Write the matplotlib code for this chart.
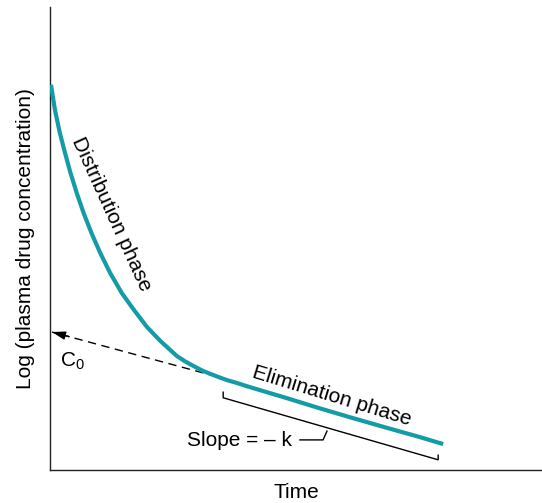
import matplotlib
matplotlib.use('Agg')
from matplotlib import pyplot as plt

plt.rcParams['font.family'] = ['Liberation Sans', 'DejaVu Sans']

# plasma curve (time, log concentration), arbitrary units 0..10
time = [0.02, 0.10, 0.20, 0.29, 0.41, 0.55, 0.69, 0.85, 1.02, 1.22, 1.46, 1.69,
        1.97, 2.24, 2.58, 2.74, 2.91, 3.09, 3.25, 3.42, 3.60, 3.80, 4.00,
        4.82, 5.49, 6.16, 6.85, 7.52, 7.99]
log_conc = [8.32, 7.78, 7.28, 6.91, 6.44, 5.96, 5.53, 5.10, 4.69, 4.26, 3.82, 3.48,
            3.09, 2.79, 2.46, 2.35, 2.25, 2.15, 2.08, 2.01, 1.94, 1.88, 1.81,
            1.55, 1.33, 1.12, 0.91, 0.71, 0.56]

# back-extrapolation of elimination line to the y axis (C0)
extrap_t = [3.66, 0.04]
extrap_c = [1.94, 2.98]

# bracket under the elimination phase + leader to the slope label
bracket_t = [3.52, 3.52, 7.89, 7.89]
bracket_c = [1.68, 1.56, 0.22, 0.32]
leader_t = [5.08, 5.55, 5.63]
leader_c = [0.65, 0.65, 0.84]

teal = '#139ca6'
fs = 15

fig = plt.figure(figsize=(5.42, 5.03), dpi=100)
ax = fig.add_axes([50 / 542, 33 / 503, 492 / 542, 463 / 503])
ax.set_xlim(0, 10)
ax.set_ylim(0, 10)

ax.plot(time, log_conc, color=teal, lw=3.0, solid_joinstyle='round', solid_capstyle='butt', zorder=3)

ax.plot(extrap_t, extrap_c, color='black', lw=1.0, dashes=(6, 4), zorder=2)
ax.annotate('', xy=(extrap_t[1], extrap_c[1]), xytext=(extrap_t[1] + 0.35, extrap_c[1] - 0.1),
            arrowprops=dict(arrowstyle='-|>,head_length=0.8,head_width=0.25', color='black', lw=1.0,
                            shrinkA=0, shrinkB=0))

ax.plot(bracket_t, bracket_c, color='black', lw=1.0, solid_joinstyle='miter')
ax.plot(leader_t, leader_c, color='black', lw=1.0)

ax.text(0.20, 2.35, r'C$_{\mathregular{0}}$', fontsize=fs, ha='left', va='center')
ax.text(1.25, 5.52, 'Distribution phase', fontsize=fs, rotation=-65.5,
        ha='center', va='center', rotation_mode='anchor')
ax.text(5.72, 1.60, 'Elimination phase', fontsize=fs, rotation=-17.0,
        ha='center', va='center', rotation_mode='anchor')
ax.text(3.86, 0.63, 'Slope = \u2013 k', fontsize=fs, ha='center', va='center')

ax.set_xlabel('Time', fontsize=fs, labelpad=9)
ax.set_ylabel('Log (plasma drug concentration)', fontsize=fs, labelpad=11)

ax.set_xticks([])
ax.set_yticks([])
for side in ['top', 'right']:
    ax.spines[side].set_visible(False)
for side in ['left', 'bottom']:
    ax.spines[side].set_linewidth(1.0)
    ax.spines[side].set_color('#222222')

fig.savefig('out.png', dpi=100)
